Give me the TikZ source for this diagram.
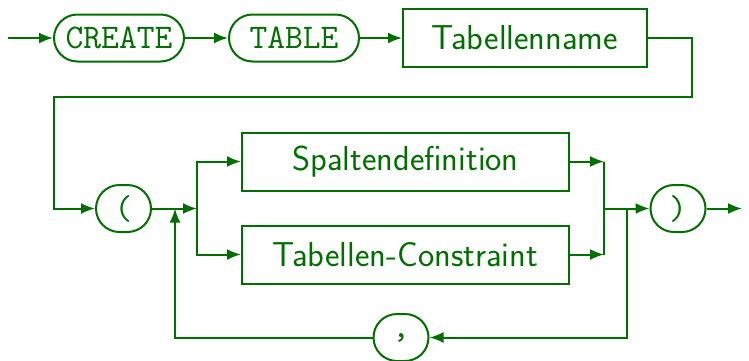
\documentclass[tikz,border=0pt]{standalone}
\usepackage{tikz}
\usetikzlibrary{arrows.meta, shapes, calc, positioning}
\definecolor{dgreen}{RGB}{0,110,0}

\begin{document}
\begin{tikzpicture}[x=0.5pt, y=-0.5pt, line width=1pt, dgreen,
  >={Latex[length=7pt,width=5.5pt]},
  term/.style={draw, rounded corners=11.75pt, minimum height=23.5pt, minimum width=27.5pt, inner sep=0pt, font=\LARGE\ttfamily},
  kw/.style={term, minimum width=65pt},
  nonterm/.style={draw, minimum height=29pt, inner sep=0pt, font=\LARGE\sffamily}]
\useasboundingbox (0,0) rectangle (749,360);

\coordinate (start) at (8,38);
\coordinate (C1) at (692,97);
\coordinate (C2) at (54,97);
\coordinate (split) at (197,208.5);
\coordinate (join) at (604,208.5);
\coordinate (back) at (627,208.5);
\coordinate (loop) at (175,208.5);
\coordinate (end) at (742,208.5);

\node[kw] (create) at (119,38) {CREATE};
\node[kw] (table) at (294,38) {TABLE};
\node[nonterm, minimum width=122pt] (tname) at (525,38) {Tabellenname};

\node[term] (lpar) at (123.5,208.5) {(};
\node[nonterm, minimum width=163.5pt] (sdef) at (405.5,161.5) {Spaltendefinition};
\node[nonterm, minimum width=163.5pt] (tcon) at (405.5,254.5) {Tabellen-Constraint};
\node[term] (rpar) at (678,208.5) {)};
\node[term] (comma) at (401,337.5) {,};

\draw[->] (start) -- (create);
\draw[->] (create) -- (table);
\draw[->] (table) -- (tname);
\draw[->] (tname.east) -| (C1) -- (C2) |- (lpar);

\draw[->] (lpar) -- (split);
\draw[->] (split) |- (sdef);
\draw[->] (split) |- (tcon);
\draw[->] (sdef) -- (sdef -| join);
\draw[->] (tcon) -- (tcon -| join);
\draw (sdef -| join) -- (tcon -| join);
\draw[->] (join) -- (rpar);
\draw[->] (rpar) -- (end);

% repetition
\draw[->] (back) |- (comma);
\draw[->] (comma) -| (loop);
\end{tikzpicture}
\end{document}
